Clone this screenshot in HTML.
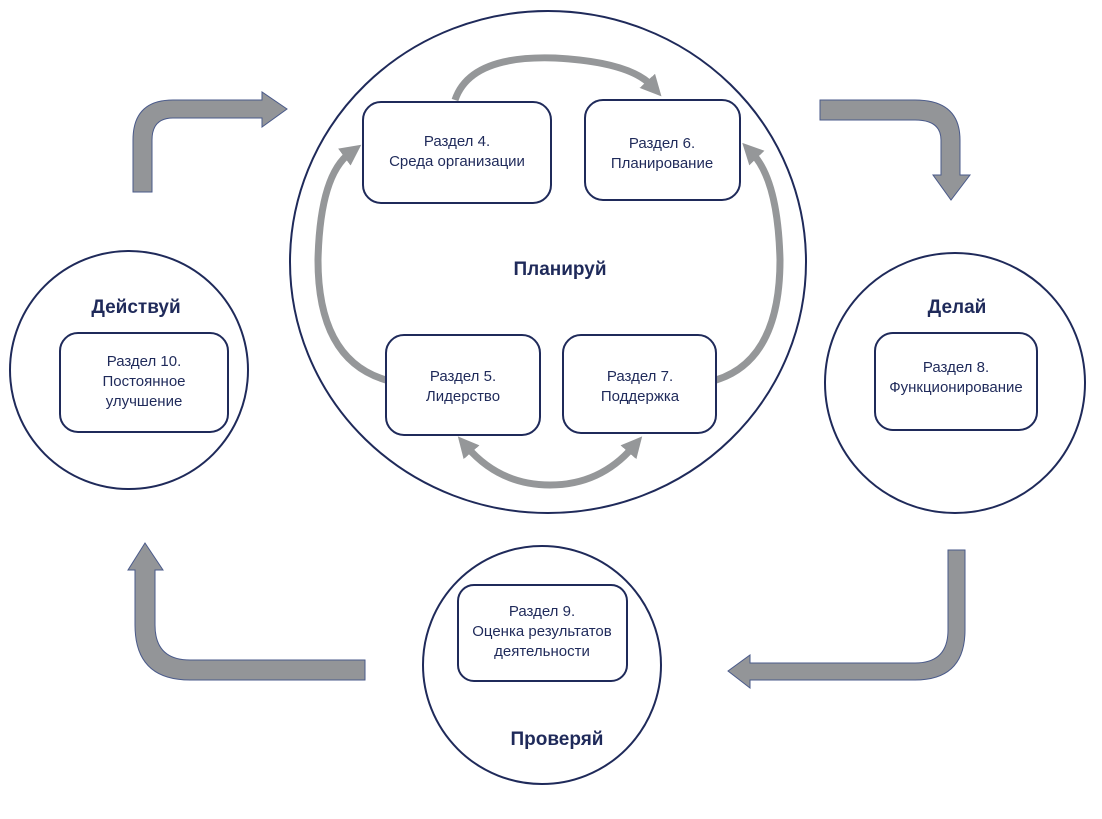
<!DOCTYPE html>
<html><head><meta charset="utf-8"><style>
body{margin:0;background:#fff}
svg text{font-family:"Liberation Sans",sans-serif;fill:#1f2a5a}
</style></head><body>
<svg width="1102" height="814" viewBox="0 0 1102 814" xmlns="http://www.w3.org/2000/svg">
<defs>
<marker id="ah" markerWidth="3" markerHeight="3" refX="1" refY="1.5" orient="auto" markerUnits="strokeWidth">
<path d="M0,0 L3,1.5 L0,3 z" fill="#959799"/></marker>
<marker id="ahs" markerWidth="3" markerHeight="3" refX="1" refY="1.5" orient="auto-start-reverse" markerUnits="strokeWidth">
<path d="M0,0 L3,1.5 L0,3 z" fill="#959799"/></marker>
</defs>
<g fill="none" stroke="#1f2a5a" stroke-width="2">
<ellipse cx="548" cy="262" rx="258" ry="251"/>
<circle cx="129" cy="370" r="119"/>
<circle cx="955" cy="383" r="130"/>
<circle cx="542" cy="665" r="119"/>
</g>
<g fill="#939598" stroke="#4a5a8a" stroke-width="1">
<path d="M133,192 L133,140 Q133,100 173,100 L262,100 L262,92 L287,109 L262,127 L262,118 L173,118 Q152,118 152,140 L152,192 Z"/>
<path d="M820,100 L915,100 Q960,100 960,140 L960,175 L970,175 L951,200 L933,175 L941,175 L941,140 Q941,120 915,120 L820,120 Z"/>
<path d="M965,550 L965,630 Q965,680 915,680 L750,680 L750,688 L728,671 L750,655 L750,663 L915,663 Q948,663 948,630 L948,550 Z"/>
<path d="M365,660 L190,660 Q155,660 155,625 L155,570 L163,570 L145,543 L128,570 L135,570 L135,625 Q135,680 190,680 L365,680 Z"/>
</g>
<g fill="none" stroke="#959799" stroke-width="7">
<path d="M455,100 Q470,55 555,58 Q630,62 652,86" marker-end="url(#ah)"/>
<path d="M386,380 Q318,360 318,260 Q320,175 350,153" marker-end="url(#ah)"/>
<path d="M716,380 Q780,360 780,260 Q778,180 752,153" marker-end="url(#ah)"/>
<path d="M467,447 Q500,485 550,485 Q600,485 633,447" marker-start="url(#ahs)" marker-end="url(#ah)"/>
</g>
<g fill="#fff" stroke="#1f2a5a" stroke-width="2">
<rect x="363" y="102" width="188" height="101" rx="18"/>
<rect x="585" y="100" width="155" height="100" rx="18"/>
<rect x="386" y="335" width="154" height="100" rx="18"/>
<rect x="563" y="335" width="153" height="98" rx="18"/>
<rect x="875" y="333" width="162" height="97" rx="18"/>
<rect x="60" y="333" width="168" height="99" rx="18"/>
<rect x="458" y="585" width="169" height="96" rx="16"/>
</g>
<g font-size="15" text-anchor="middle">
<text x="457" y="146">Раздел 4.</text><text x="457" y="166">Среда организации</text>
<text x="662" y="148">Раздел 6.</text><text x="662" y="168">Планирование</text>
<text x="463" y="381">Раздел 5.</text><text x="463" y="401">Лидерство</text>
<text x="640" y="381">Раздел 7.</text><text x="640" y="401">Поддержка</text>
<text x="956" y="372">Раздел 8.</text><text x="956" y="392">Функционирование</text>
<text x="144" y="366">Раздел 10.</text><text x="144" y="386">Постоянное</text><text x="144" y="406">улучшение</text>
<text x="542" y="616">Раздел 9.</text><text x="542" y="636">Оценка результатов</text><text x="542" y="656">деятельности</text>
</g>
<g font-size="19" font-weight="bold" text-anchor="middle">
<text x="560" y="275">Планируй</text>
<text x="136" y="313">Действуй</text>
<text x="957" y="313">Делай</text>
<text x="557" y="745">Проверяй</text>
</g>
</svg>
</body></html>
